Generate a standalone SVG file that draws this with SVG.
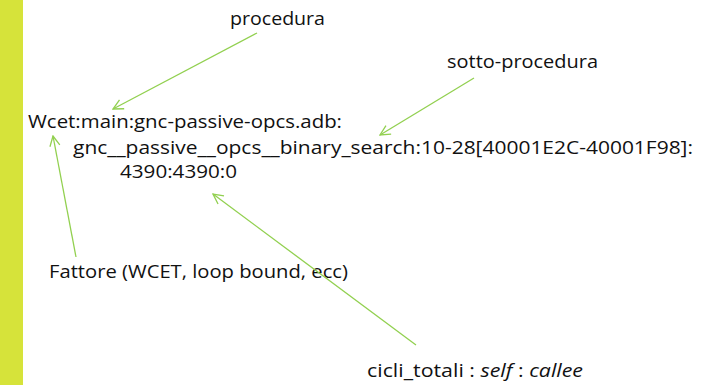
<svg xmlns="http://www.w3.org/2000/svg" width="717" height="385" viewBox="0 0 717 385">
<style>
.t{font-family:"Open Sans","Liberation Sans",sans-serif;font-size:18px;fill:#111}
.c{stroke:#92d050;stroke-width:1.3;fill:none}
</style>
<defs>
<marker id="ah" viewBox="0 0 12 12" refX="11" refY="6" markerWidth="12" markerHeight="12" markerUnits="userSpaceOnUse" orient="auto">
<path d="M1,1 L11,6 L1,11" stroke="#92d050" stroke-width="1.3" fill="none"/>
</marker>
</defs>
<rect x="0" y="0" width="717" height="385" fill="#fff"/>
<rect x="0" y="0" width="23" height="385" fill="#d6e33a"/>
<g id="procedura"><text class="t" x="230" y="25" textLength="95" lengthAdjust="spacingAndGlyphs">procedura</text></g>
<g id="sotto-procedura"><text class="t" x="447" y="68" textLength="151" lengthAdjust="spacingAndGlyphs">sotto-procedura</text></g>
<g id="record">
<text class="t" x="28" y="128" textLength="314" lengthAdjust="spacingAndGlyphs">Wcet:main:gnc-passive-opcs.adb:</text>
<text class="t" x="73" y="154" textLength="620" lengthAdjust="spacingAndGlyphs">gnc__passive__opcs__binary_search:10-28[40001E2C-40001F98]:</text>
<text class="t" x="120" y="178" textLength="117" lengthAdjust="spacingAndGlyphs">4390:4390:0</text>
</g>
<g id="fattore"><text class="t" x="49" y="278" textLength="299" lengthAdjust="spacingAndGlyphs">Fattore (WCET, loop bound, ecc)</text></g>
<g id="cicli"><text class="t" x="367" y="377" textLength="216" lengthAdjust="spacingAndGlyphs">cicli_totali : <tspan font-style="italic">self</tspan> : <tspan font-style="italic">callee</tspan></text></g>
<g id="connectors">
<line class="c" x1="257" y1="33" x2="113" y2="109" marker-end="url(#ah)"/>
<line class="c" x1="474" y1="78" x2="380" y2="135" marker-end="url(#ah)"/>
<line class="c" x1="76" y1="257" x2="53" y2="136" marker-end="url(#ah)"/>
<line class="c" x1="416" y1="345" x2="213" y2="194" marker-end="url(#ah)"/>
</g>
</svg>
